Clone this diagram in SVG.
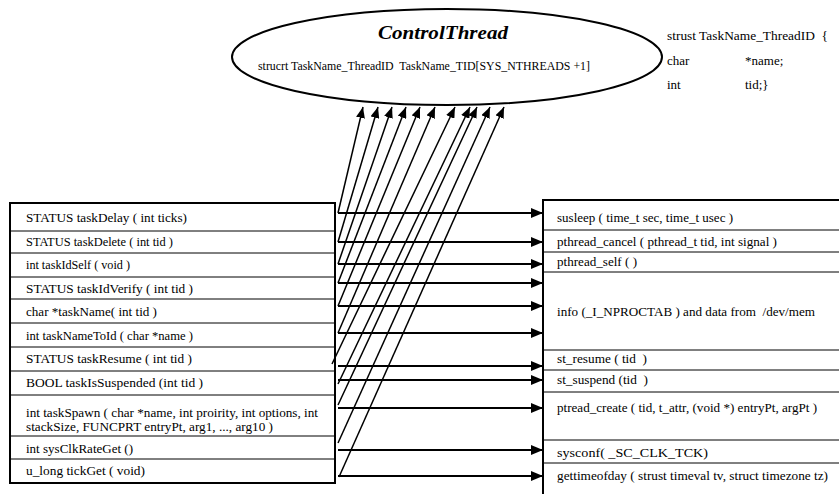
<svg xmlns="http://www.w3.org/2000/svg" width="839" height="494" viewBox="0 0 839 494" font-family="'Liberation Serif', 'DejaVu Serif', serif">
<defs>
<style>
text{font-family:'Liberation Serif','DejaVu Serif',serif;font-size:13px;fill:#000;white-space:pre}
.title{font-size:19px;font-weight:bold;font-style:italic}
.box{fill:#fff;stroke:#000;stroke-width:2}
.sep{stroke:#000;stroke-width:1}
.h{stroke:#000;stroke-width:2;fill:none;marker-end:url(#ah)}
.d{stroke:#000;stroke-width:1.5;fill:none;marker-end:url(#ad)}
</style>
<marker id="ah" markerUnits="userSpaceOnUse" markerWidth="12" markerHeight="10" refX="12" refY="5" orient="auto">
<path d="M0,0 L12,5 L0,10 Z" fill="#000"/>
</marker>
<marker id="ad" markerUnits="userSpaceOnUse" markerWidth="11" markerHeight="9" refX="11" refY="4.5" orient="auto">
<path d="M0,0 L11,4.5 L0,9 Z" fill="#000"/>
</marker>
</defs>
<rect width="839" height="494" fill="#fff"/>

<g id="control-thread">
<ellipse cx="447" cy="57" rx="215" ry="48" fill="#fff" stroke="#000" stroke-width="2"/>
<text class="title" x="378" y="39" textLength="130" lengthAdjust="spacingAndGlyphs">ControlThread</text>
<text x="258" y="70" textLength="332" lengthAdjust="spacingAndGlyphs">strucrt TaskName_ThreadID  TaskName_TID[SYS_NTHREADS +1]</text>
</g>

<g id="struct-note">
<text x="667" y="40" textLength="161" lengthAdjust="spacingAndGlyphs">strust TaskName_ThreadID  {</text>
<text x="667" y="65">char</text>
<text x="745" y="65">*name;</text>
<text x="667" y="89">int</text>
<text x="745" y="89">tid;}</text>
</g>

<g id="vxworks-api">
<rect class="box" x="10" y="203" width="325" height="280"/>
<line class="sep" x1="10" y1="231" x2="335" y2="231"/>
<line class="sep" x1="10" y1="253" x2="335" y2="253"/>
<line class="sep" x1="10" y1="277" x2="335" y2="277"/>
<line class="sep" x1="10" y1="299" x2="335" y2="299"/>
<line class="sep" x1="10" y1="323" x2="335" y2="323"/>
<line class="sep" x1="10" y1="347" x2="335" y2="347"/>
<line class="sep" x1="10" y1="371" x2="335" y2="371"/>
<line class="sep" x1="10" y1="395" x2="335" y2="395"/>
<line class="sep" x1="10" y1="436" x2="335" y2="436"/>
<line class="sep" x1="10" y1="459" x2="335" y2="459"/>
<text x="26" y="222" textLength="161" lengthAdjust="spacingAndGlyphs">STATUS taskDelay ( int ticks)</text>
<text x="26" y="246" textLength="147" lengthAdjust="spacingAndGlyphs">STATUS taskDelete ( int tid )</text>
<text x="26" y="269" textLength="104" lengthAdjust="spacingAndGlyphs">int taskIdSelf ( void )</text>
<text x="26" y="293" textLength="167" lengthAdjust="spacingAndGlyphs">STATUS taskIdVerify ( int tid )</text>
<text x="26" y="316" textLength="131" lengthAdjust="spacingAndGlyphs">char *taskName( int tid )</text>
<text x="26" y="340" textLength="167" lengthAdjust="spacingAndGlyphs">int taskNameToId ( char *name )</text>
<text x="26" y="363" textLength="166" lengthAdjust="spacingAndGlyphs">STATUS taskResume ( int tid )</text>
<text x="26" y="387" textLength="177" lengthAdjust="spacingAndGlyphs">BOOL taskIsSuspended (int tid )</text>
<text x="26" y="417" textLength="292" lengthAdjust="spacingAndGlyphs">int taskSpawn ( char *name, int proirity, int options, int</text>
<text x="26" y="431" textLength="247" lengthAdjust="spacingAndGlyphs">stackSize, FUNCPRT entryPt, arg1, ..., arg10 )</text>
<text x="26" y="453" textLength="107" lengthAdjust="spacingAndGlyphs">int sysClkRateGet ()</text>
<text x="26" y="475" textLength="119" lengthAdjust="spacingAndGlyphs">u_long tickGet ( void)</text>
</g>

<g id="posix-api">
<rect class="box" x="543" y="200" width="310" height="310"/>
<line class="sep" x1="543" y1="230" x2="839" y2="230"/>
<line class="sep" x1="543" y1="252" x2="839" y2="252"/>
<line class="sep" x1="543" y1="272" x2="839" y2="272"/>
<line class="sep" x1="543" y1="350" x2="839" y2="350"/>
<line class="sep" x1="543" y1="370" x2="839" y2="370"/>
<line class="sep" x1="543" y1="392" x2="839" y2="392"/>
<line class="sep" x1="543" y1="440" x2="839" y2="440"/>
<line class="sep" x1="543" y1="463" x2="839" y2="463"/>
<text x="557" y="222" textLength="176" lengthAdjust="spacingAndGlyphs">susleep ( time_t sec, time_t usec )</text>
<text x="557" y="246" textLength="220" lengthAdjust="spacingAndGlyphs">pthread_cancel ( pthread_t tid, int signal )</text>
<text x="557" y="266" textLength="80" lengthAdjust="spacingAndGlyphs">pthread_self ( )</text>
<text x="557" y="316" textLength="258" lengthAdjust="spacingAndGlyphs">info (_I_NPROCTAB ) and data from  /dev/mem</text>
<text x="557" y="363" textLength="90" lengthAdjust="spacingAndGlyphs">st_resume ( tid  )</text>
<text x="557" y="384" textLength="91" lengthAdjust="spacingAndGlyphs">st_suspend (tid  )</text>
<text x="557" y="412" textLength="260" lengthAdjust="spacingAndGlyphs">ptread_create ( tid, t_attr, (void *) entryPt, argPt )</text>
<text x="557" y="457" textLength="151" lengthAdjust="spacingAndGlyphs">sysconf( _SC_CLK_TCK)</text>
<text x="557" y="480" textLength="271" lengthAdjust="spacingAndGlyphs">gettimeofday ( strust timeval tv, struct timezone tz)</text>
</g>

<g id="connectors">
<line class="h" x1="338" y1="213" x2="543" y2="213"/>
<line class="h" x1="338" y1="242" x2="543" y2="242"/>
<line class="h" x1="338" y1="264" x2="543" y2="264"/>
<line class="h" x1="338" y1="283" x2="543" y2="283"/>
<line class="h" x1="338" y1="306" x2="543" y2="306"/>
<line class="h" x1="338" y1="333" x2="543" y2="333"/>
<line class="h" x1="338" y1="366" x2="543" y2="366"/>
<line class="h" x1="338" y1="380" x2="543" y2="380"/>
<line class="h" x1="338" y1="408" x2="543" y2="408"/>
<line class="h" x1="338" y1="450" x2="543" y2="450"/>
<line class="h" x1="338" y1="476" x2="543" y2="476"/>
<line class="d" x1="338" y1="213" x2="363" y2="107"/>
<line class="d" x1="338" y1="242" x2="378" y2="107"/>
<line class="d" x1="338" y1="264" x2="392" y2="107"/>
<line class="d" x1="338" y1="283" x2="406" y2="107"/>
<line class="d" x1="338" y1="306" x2="420" y2="107"/>
<line class="d" x1="338" y1="333" x2="435" y2="107"/>
<line class="d" x1="332" y1="364" x2="455" y2="107"/>
<line class="d" x1="338" y1="384" x2="470" y2="107"/>
<line class="d" x1="338" y1="405" x2="477" y2="107"/>
<line class="d" x1="338" y1="443" x2="490" y2="107"/>
<line class="d" x1="339" y1="477" x2="504" y2="107"/>
</g>
</svg>
